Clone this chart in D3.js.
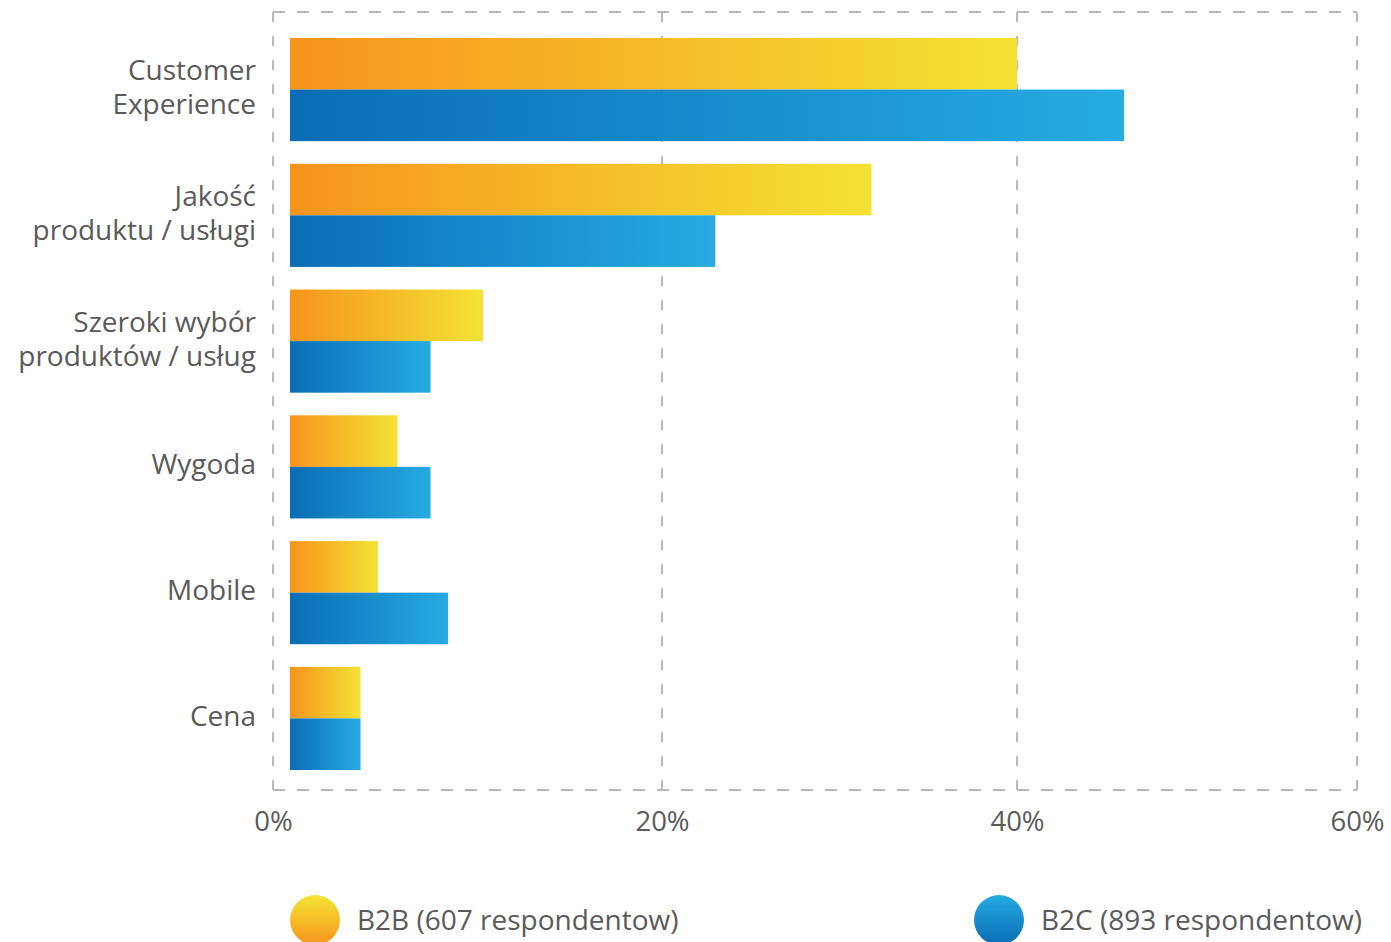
<!DOCTYPE html>
<html>
<head>
<meta charset="utf-8">
<script src="https://cdn.jsdelivr.net/npm/d3@7"></script>
<style>
  html, body { margin: 0; padding: 0; background: #fff; }
  svg { display: block; font-family: "Open Sans", sans-serif; }
</style>
</head>
<body>
<svg id="chart" width="1391" height="942"></svg>
<script>
const categories = [
  ["Customer", "Experience"],
  ["Jakość", "produktu / usługi"],
  ["Szeroki wybór", "produktów / usług"],
  ["Wygoda"],
  ["Mobile"],
  ["Cena"]
];
const categoryKeys = ["Customer Experience", "Jakość produktu / usługi", "Szeroki wybór produktów / usług", "Wygoda", "Mobile", "Cena"];
const seriesNames = ["B2B (607 respondentow)", "B2C (893 respondentow)"];
const b2bValues = [40, 31.8, 10.8, 6.4, 5.4, 4.5];
const b2cValues = [46.3, 23.0, 8.1, 8.1, 9.0, 4.5];
const tickValues = [0, 20, 40, 60];
const tickLabels = ["0%", "20%", "40%", "60%"];

const svg = d3.select("#chart");
const defs = svg.append("defs");

function hGrad(id, c0, c1, vertical) {
  const g = defs.append("linearGradient").attr("id", id)
    .attr("x1", 0).attr("y1", vertical ? 1 : 0)
    .attr("x2", vertical ? 0 : 1).attr("y2", 0);
  g.append("stop").attr("offset", "0%").attr("stop-color", c0);
  g.append("stop").attr("offset", "100%").attr("stop-color", c1);
}
hGrad("gB2B", "#f7941d", "#f4e234", false);
hGrad("gB2C", "#0a6db5", "#26abe2", false);
hGrad("lB2B", "#f7941d", "#f4e532", true);
hGrad("lB2C", "#0a6db5", "#26abe2", true);

const x = d3.scaleLinear().domain(tickValues).range([273, 662, 1017, 1357]);
const y = d3.scaleBand().domain(categoryKeys).range([38, 770]).paddingInner(0.18).paddingOuter(0);
const ySub = d3.scaleBand().domain(["B2B", "B2C"]).range([0, y.bandwidth()]);

const frameTop = 12, frameBottom = 790;
const gridColor = "#b9b9b9";

// frame & grid
const grid = svg.append("g");
[frameTop, frameBottom].forEach(yy => {
  grid.append("line").attr("x1", x(0)).attr("x2", x(60)).attr("y1", yy).attr("y2", yy)
    .attr("stroke", gridColor).attr("stroke-width", 2).attr("stroke-dasharray", "12,12");
});
tickValues.forEach(v => {
  grid.append("line").attr("x1", x(v)).attr("x2", x(v)).attr("y1", frameTop).attr("y2", frameBottom)
    .attr("stroke", gridColor).attr("stroke-width", 2).attr("stroke-dasharray", "10,14");
});

// bars
const barStart = x(0) + 17;
const rows = categoryKeys.map((k, i) => ({ key: k, b2b: b2bValues[i], b2c: b2cValues[i] }));
const gBars = svg.append("g");
rows.forEach(r => {
  gBars.append("rect")
    .attr("x", barStart).attr("y", y(r.key) + ySub("B2B"))
    .attr("width", x(r.b2b) - barStart).attr("height", ySub.bandwidth())
    .attr("fill", "url(#gB2B)");
  gBars.append("rect")
    .attr("x", barStart).attr("y", y(r.key) + ySub("B2C"))
    .attr("width", x(r.b2c) - barStart).attr("height", ySub.bandwidth())
    .attr("fill", "url(#gB2C)");
});

// category labels
const textColor = "#5a5a5a";
const labels = svg.append("g");
categoryKeys.forEach((k, i) => {
  const lines = categories[i];
  const cy = y(k) + y.bandwidth() / 2;
  const lh = 34;
  const t = labels.append("text").attr("text-anchor", "end")
    .attr("font-size", 28).attr("fill", textColor);
  lines.forEach((ln, j) => {
    t.append("tspan").attr("x", 256)
      .attr("y", cy + (j - (lines.length - 1) / 2) * lh + 7.5)
      .text(ln);
  });
});

// x axis
const axis = d3.axisBottom(x).tickValues(tickValues)
  .tickFormat((d, i) => tickLabels[i]).tickSize(0).tickPadding(0);
const ax = svg.append("g").attr("transform", `translate(0, ${frameBottom})`).call(axis);
ax.select(".domain").remove();
ax.selectAll("text").attr("font-size", 27.5).attr("fill", textColor)
  .attr("font-family", "Open Sans, sans-serif").attr("dy", 0).attr("y", 41);

// legend
const legend = svg.append("g");
const legendItems = [
  { name: seriesNames[0], cx: 315, fill: "url(#lB2B)" },
  { name: seriesNames[1], cx: 999, fill: "url(#lB2C)" }
];
legendItems.forEach(d => {
  legend.append("circle").attr("cx", d.cx).attr("cy", 920).attr("r", 25).attr("fill", d.fill);
  legend.append("text").attr("x", d.cx + 42).attr("y", 930)
    .attr("font-size", 28).attr("fill", textColor).text(d.name);
});
</script>
</body>
</html>
